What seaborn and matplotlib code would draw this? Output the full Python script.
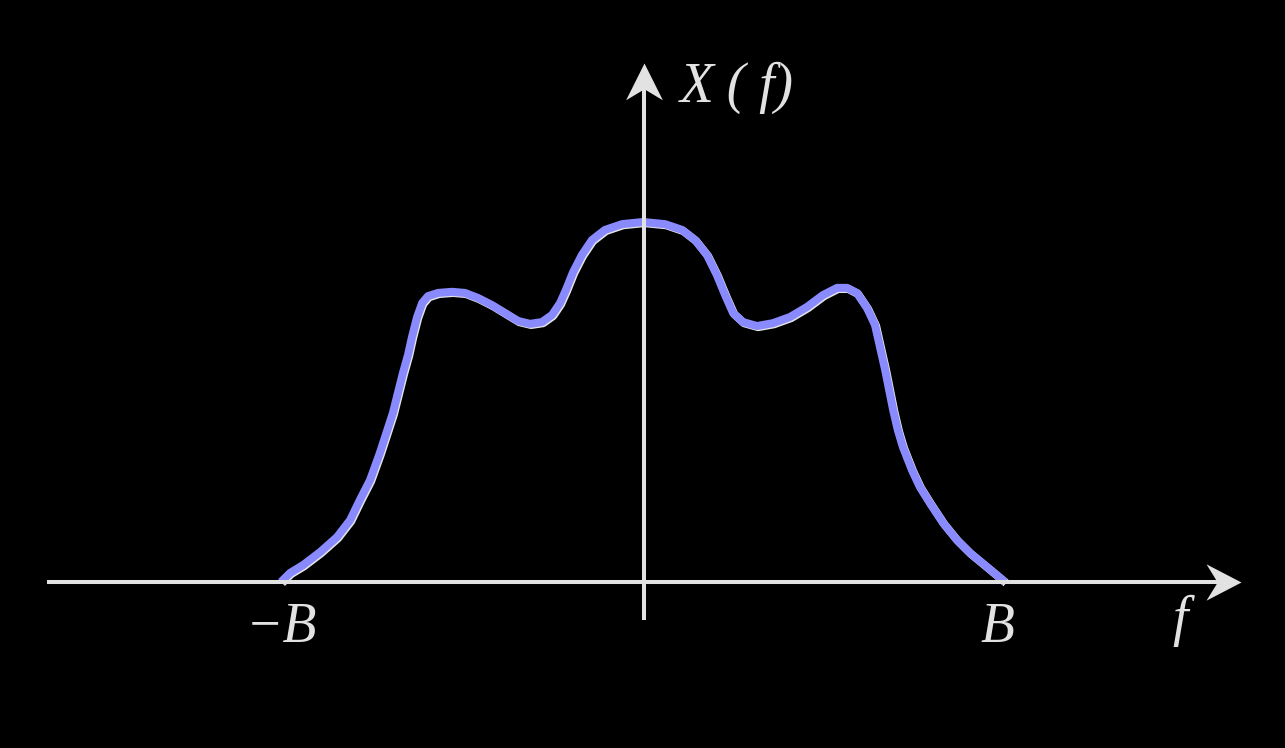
import matplotlib
matplotlib.use("Agg")
import matplotlib.pyplot as plt
import matplotlib.patheffects as pe
from matplotlib.path import Path
import seaborn as sns
import pandas as pd

# ---- data (f in units of B, X normalised to peak) ----
f_vals = [-1.000, -0.975, -0.939, -0.892, -0.845, -0.809, -0.782, -0.754, -0.727,
          -0.691, -0.663, -0.649, -0.638, -0.624,
          -0.610, -0.594, -0.566, -0.528, -0.492, -0.456, -0.417, -0.381, -0.345,
          -0.312, -0.279, -0.251, -0.229, -0.213, -0.193, -0.169, -0.141, -0.105,
          -0.058, 0.000, 0.061, 0.108, 0.144, 0.177, 0.204, 0.227, 0.249, 0.276,
          0.315, 0.359, 0.406, 0.453, 0.497, 0.536, 0.564, 0.591, 0.619, 0.641,
          0.669, 0.691, 0.704, 0.718, 0.743, 0.765, 0.793, 0.829, 0.867, 0.903,
          0.950, 1.000]
X_vals = [0.000, 0.025, 0.047, 0.083, 0.125, 0.172, 0.228, 0.283, 0.358,
          0.469, 0.581, 0.631, 0.681, 0.736,
          0.775, 0.794, 0.803, 0.806, 0.803, 0.789, 0.769, 0.747, 0.725,
          0.717, 0.722, 0.742, 0.775, 0.811, 0.861, 0.908, 0.950, 0.978,
          0.994, 1.000, 0.994, 0.978, 0.950, 0.908, 0.853, 0.797, 0.747, 0.722,
          0.711, 0.719, 0.736, 0.764, 0.797, 0.817, 0.817, 0.803, 0.761, 0.714,
          0.589, 0.478, 0.422, 0.375, 0.311, 0.264, 0.219, 0.164, 0.117, 0.081,
          0.042, 0.000]
tick_labels = ["\u2212B", "B"]
tick_pos = [-1.0, 0.98]
axis_labels = ["X ( f)", "f"]

df = pd.DataFrame({"f": f_vals, "X": X_vals})

sns.set_theme(style="white")
plt.rcParams["font.family"] = ["Liberation Serif", "DejaVu Serif"]

fig = plt.figure(figsize=(12.85, 7.48), dpi=100, facecolor="black")
ax = fig.add_axes([0, 0, 1, 1])
ax.set_facecolor("black")
ax.set_xlim(-643 / 362, 642 / 362)
ax.set_ylim(-166 / 360, 582 / 360)
ax.axis("off")

curve_color = "#8a8aff"
axis_color = "#e2e2e2"

sns.lineplot(data=df, x="f", y="X", ax=ax, color=curve_color, lw=5.8,
             estimator=None, sort=False, zorder=2,
             solid_joinstyle="round", solid_capstyle="butt",
             path_effects=[pe.SimpleLineShadow(offset=(0.8, -0.8),
                                               shadow_color="white", alpha=0.9),
                           pe.Normal()])

# notched arrow heads as custom markers
head_right = Path([(0, 0), (-1, 0.52), (-0.68, 0), (-1, -0.52), (0, 0)],
                  [Path.MOVETO, Path.LINETO, Path.LINETO, Path.LINETO, Path.CLOSEPOLY])
head_up = Path([(0, 0), (0.5, -1), (0, -0.7), (-0.5, -1), (0, 0)],
               [Path.MOVETO, Path.LINETO, Path.LINETO, Path.LINETO, Path.CLOSEPOLY])

# horizontal axis
ax.plot([-1.646, 1.60], [0, 0], color=axis_color, lw=2.9,
        solid_capstyle="butt", zorder=4)
ax.plot([1.652], [0], marker=head_right, markersize=50.4, color=axis_color,
        markeredgewidth=0, zorder=4)
# vertical axis
ax.plot([0.003, 0.003], [-0.106, 1.385], color=axis_color, lw=2.9,
        solid_capstyle="butt", zorder=4)
ax.plot([0.003], [1.442], marker=head_up, markersize=53, color=axis_color,
        markeredgewidth=0, zorder=4)

txt_kw = dict(color=axis_color, fontsize=40, fontstyle="italic", zorder=5)
ax.text(0.102, 1.333, axis_labels[0], ha="left", va="baseline", **txt_kw)
ax.text(1.483, -0.147, axis_labels[1], ha="center", va="baseline", **txt_kw)
for p, lab in zip(tick_pos, tick_labels):
    ax.text(p, -0.167, lab, ha="center", va="baseline", **txt_kw)

fig.savefig("out.png", dpi=100, facecolor="black")
